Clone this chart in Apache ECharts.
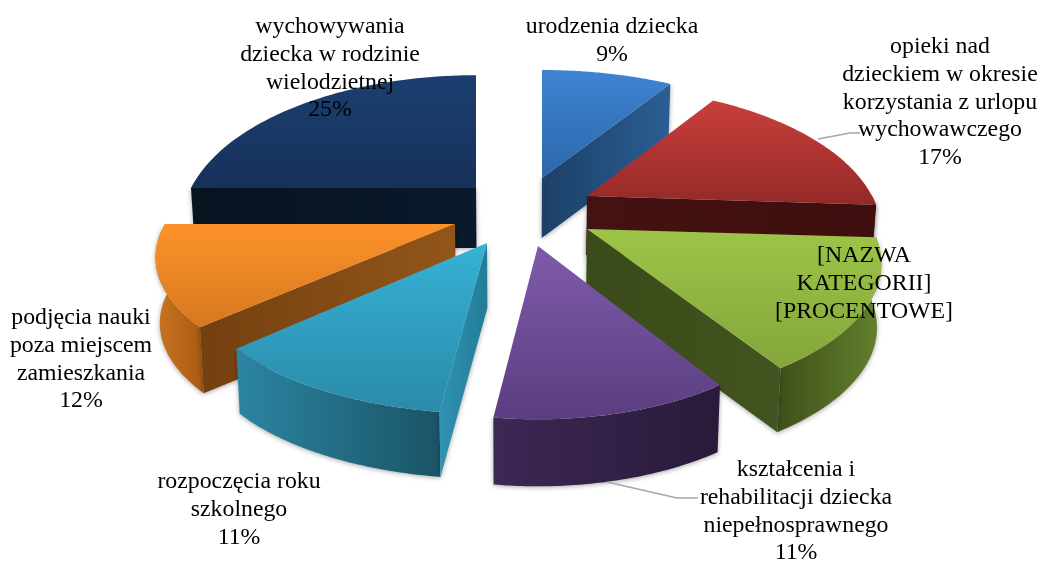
<!DOCTYPE html>
<html><head><meta charset="utf-8">
<style>html,body{margin:0;padding:0;background:#fff}#c{width:1043px;height:561px}</style>
<script src="https://cdn.jsdelivr.net/npm/echarts@6/dist/echarts.min.js"></script>
</head><body><div id="c"></div>
<script>
const categories = ["urodzenia dziecka","opieki nad dzieckiem w okresie korzystania z urlopu wychowawczego","[NAZWA KATEGORII]","kształcenia i rehabilitacji dziecka niepełnosprawnego","rozpoczęcia roku szkolnego","podjęcia nauki poza miejscem zamieszkania","wychowywania dziecka w rodzinie wielodzietnej"];
const values = [9,17,15,11,11,12,25];
const labelLines = [
 ["urodzenia dziecka","9%"],
 ["opieki nad","dzieckiem w okresie","korzystania z urlopu","wychowawczego","17%"],
 ["[NAZWA","KATEGORII]","[PROCENTOWE]"],
 ["kształcenia i","rehabilitacji dziecka","niepełnosprawnego","11%"],
 ["rozpoczęcia roku","szkolnego","11%"],
 ["podjęcia nauki","poza miejscem","zamieszkania","12%"],
 ["wychowywania","dziecka w rodzinie","wielodzietnej","25%"]
];
const labelAnchors = [[612,27],[940,47],[864,256],[796,470],[239,482],[81,318],[330,27]];
const apex = [[542,178],[587,196],[587,229],[538,246],[487,243],[455,224],[476,188]];
const radiusX = [290,285,285,268,285,290,285];
const radiusY = [135,137,130,130,128,125,141];
const depth = [60,59,64,67,65,66,60];
const topColors = [["#3f84d2","#2c67ab"],["#ca3f3b","#932a28"],["#9cc547","#84a63b"],["#7f5bab","#5a3e80"],["#36b2d6","#2b8aa9"],["#fd9229","#d6781e"],["#1c3f70","#16315a"]];
const wallColors = [["#2a5b90","#1d426f"],["#431110","#3e0f0e"],["#3f501b","#64802c"],["#3c2854","#291a3a"],["#2b85a3","#1a5466"],["#c97621","#a95a12"],["#0a1a2c","#07131f"]];
const radialColors = [["#1c4068","#2b5e94"],["#441211","#3e0f0e"],["#3a4a18","#425420"],["#3c2854","#291a3a"],["#2f93b2","#237c98"],["#74400f","#92561a"],["#07131f","#0a1a2c"]];
const drawOrder = [0,6,1,5,4,2,3];
const perspective = 0.25;

const total = values.reduce((a,b)=>a+b,0);
const cum = []; values.reduce((a,v,i)=>{cum[i]=[a/total*2*Math.PI,(a+v)/total*2*Math.PI];return a+v;},0);
const CXG = 515;
function pt(i,t){
  const u=Math.sin(t), v=-Math.cos(t), s=1/(1-perspective*v);
  return [apex[i][0]+radiusX[i]*u*s, apex[i][1]+radiusY[i]*v*s];
}
const drop=(i,p)=>[p[0]-(p[0]-CXG)*0.012, p[1]+depth[i]];
const grad=(c,h)=>new echarts.graphic.LinearGradient(0,0,h?1:0,h?0:1,[{offset:0,color:c[0]},{offset:1,color:c[1]}]);
function arc(i,a,b){const n=60,o=[];for(let k=0;k<=n;k++)o.push(pt(i,a+(b-a)*k/n));return o;}
function poly(points,fill,shadow){
  return {type:'polygon',shape:{points},style:{fill,shadowBlur:shadow?5:0,shadowColor:'rgba(0,0,0,0.35)',shadowOffsetY:shadow?1:0}};
}
function renderItem(params,api){
  const i=api.value(0), [a,b]=cum[i], ch=[], c=[apex[i][0],apex[i][1]];
  const fa=Math.max(a,Math.PI/2), fb=Math.min(b,Math.PI*1.5);
  if(fb>fa){
    const top=arc(i,fa,fb), bot=top.map(p=>drop(i,p)).reverse();
    ch.push(poly(top.concat(bot),grad(wallColors[i],true),true));
  }
  if(Math.sin(a)<-1e-6){
    const p=pt(i,a); ch.push(poly([c,p,drop(i,p),drop(i,c)],grad(radialColors[i],true),true));
  }
  if(Math.sin(b)>1e-6){
    const p=pt(i,b); ch.push(poly([c,p,drop(i,p),drop(i,c)],grad(radialColors[i],true),true));
  }
  ch.push(poly([c].concat(arc(i,a,b)),grad(topColors[i],false),false));
  return {type:'group',children:ch};
}
const labelSeriesData = labelLines.map((l,i)=>[i]);
function renderLabel(params,api){
  const i=api.value(0);
  return {type:'group',children:labelLines[i].map((t,k)=>({type:'text',silent:true,style:{
    text:t,x:labelAnchors[i][0],y:labelAnchors[i][1]+k*27.7,align:'center',verticalAlign:'middle',
    font:'23.8px "Liberation Serif"',fill:'#000'}}))};
}
const chart=echarts.init(document.getElementById('c'),null,{renderer:'canvas'});
chart.setOption({
  animation:false,
  series:[
   {type:'custom',coordinateSystem:'none',silent:true,z:2,data:drawOrder.map(i=>[i,values[i]]),encode:{},renderItem},
   {type:'custom',coordinateSystem:'none',silent:true,z:5,data:labelSeriesData,renderItem:renderLabel}
  ],
  graphic:[
   {type:'polyline',z:3,shape:{points:[[818,139],[850,133],[860,133]]},style:{stroke:'#a6a6a6',lineWidth:1.5,fill:null}},
   {type:'polyline',z:3,shape:{points:[[607,482],[677,498],[698,498]]},style:{stroke:'#a6a6a6',lineWidth:1.5,fill:null}}
  ]
});
</script></body></html>
